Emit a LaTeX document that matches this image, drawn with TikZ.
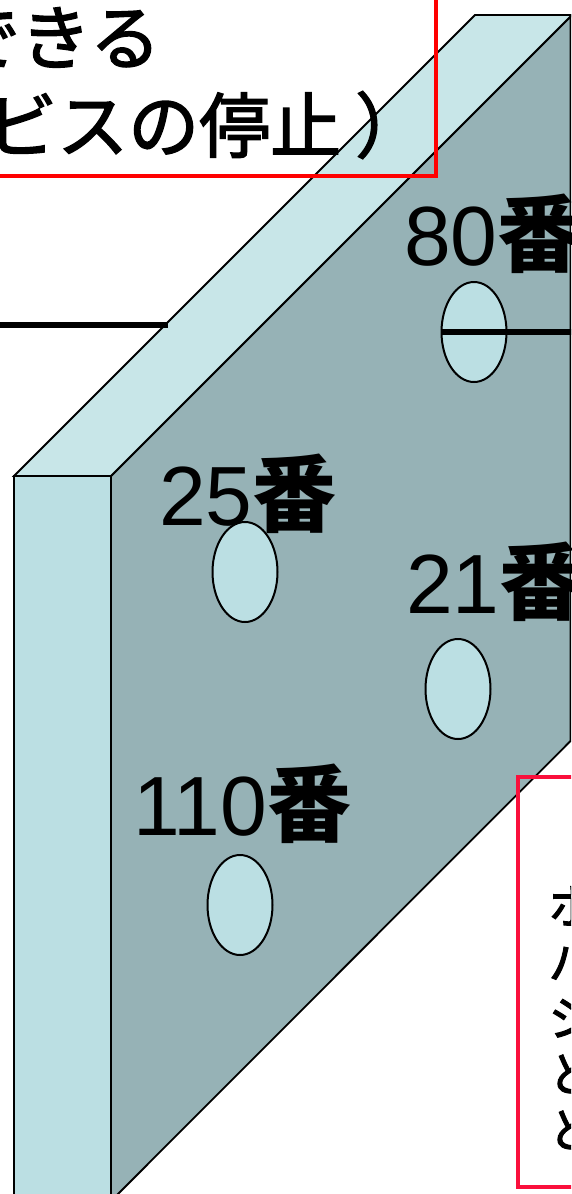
\documentclass[tikz,border=0pt]{standalone}
\usepackage{fontspec}
\usetikzlibrary{shapes.geometric}
\newfontfamily\jp{Noto Sans CJK JP}
\newfontfamily\jpm{Noto Sans CJK JP}[FakeBold=2]
\newfontfamily\num{Liberation Sans}
\definecolor{frontc}{RGB}{187,223,227}
\definecolor{topc}{RGB}{200,230,232}
\definecolor{sidec}{RGB}{150,178,182}
\definecolor{boxred}{RGB}{255,0,0}
\definecolor{boxcrimson}{RGB}{250,16,60}
\tikzset{
  face/.style={draw=black, line width=1.8pt, line join=miter},
  hole/.style={ellipse, draw=black, fill=frontc, line width=2pt, minimum width=65pt, minimum height=100pt, inner sep=0pt},
  numlab/.style={anchor=base west, inner sep=0pt, font=\fontsize{84}{84}\selectfont},
  toptext/.style={anchor=base west, inner sep=0pt, font=\jpm\fontsize{71}{71}\selectfont},
  sidetext/.style={anchor=base west, inner sep=0pt, font=\jpm\fontsize{48}{48}\selectfont},
  wire/.style={draw=black, line width=6.5pt}
}
\begin{document}
\begin{tikzpicture}[x=1pt,y=-1pt]
\useasboundingbox (0,0) rectangle (571,1194);
\clip (0,0) rectangle (571,1194);
\fill[white] (0,0) rectangle (571,1194);
% wall
\path[face, fill=sidec] (111,476) -- (572,15) -- (570.5,15) -- (570.5,741) -- (111,1201) -- cycle;
\draw[face] (570.5,15) -- (570.5,741);
\path[face, fill=topc] (14,476) -- (475,15) -- (572,15) -- (111,476) -- cycle;
\path[face, fill=frontc] (14,476) rectangle (111,1210);
% holes
\node[hole] (h80) at (474,332) {};
\node[hole] (h25) at (245,572) {};
\node[hole] (h21) at (458,689) {};
\node[hole] (h110) at (240,905) {};
% wires
\coordinate (lstart) at (-5,325);
\coordinate (lend) at (168,325);
\coordinate (rend) at (580,332);
\draw[wire] (lstart) -- (lend);
\draw[wire] (h80.west) -- (rend);
% labels
\node[numlab] (t80) at (404,265) {\num 80\jp\bfseries 番};
\node[numlab] (t25) at (159,525) {\num 25\jp\bfseries 番};
\node[numlab] (t21) at (406,613) {\num 21\jp\bfseries 番};
\node[numlab] (t110) at (133,835) {\num 110\jp\bfseries 番};
% top callout
\draw[boxred, line width=4pt] (-20,-20) rectangle (436,176);
\node[toptext] (c1) at (-51,64) {できる};
\node[toptext] (c2) at (-85,152) {ービスの停止\hspace{14pt}）};
% bottom callout
\draw[boxcrimson, line width=4pt] (518,777) rectangle (640,1187);
\node[sidetext] (s1) at (548,924) {ホ};
\node[sidetext] (s2) at (548,980) {ハ};
\node[sidetext] (s3) at (548,1036) {シ};
\node[sidetext] (s4) at (548,1092) {と};
\node[sidetext] (s5) at (548,1148) {と};
\end{tikzpicture}
\end{document}
